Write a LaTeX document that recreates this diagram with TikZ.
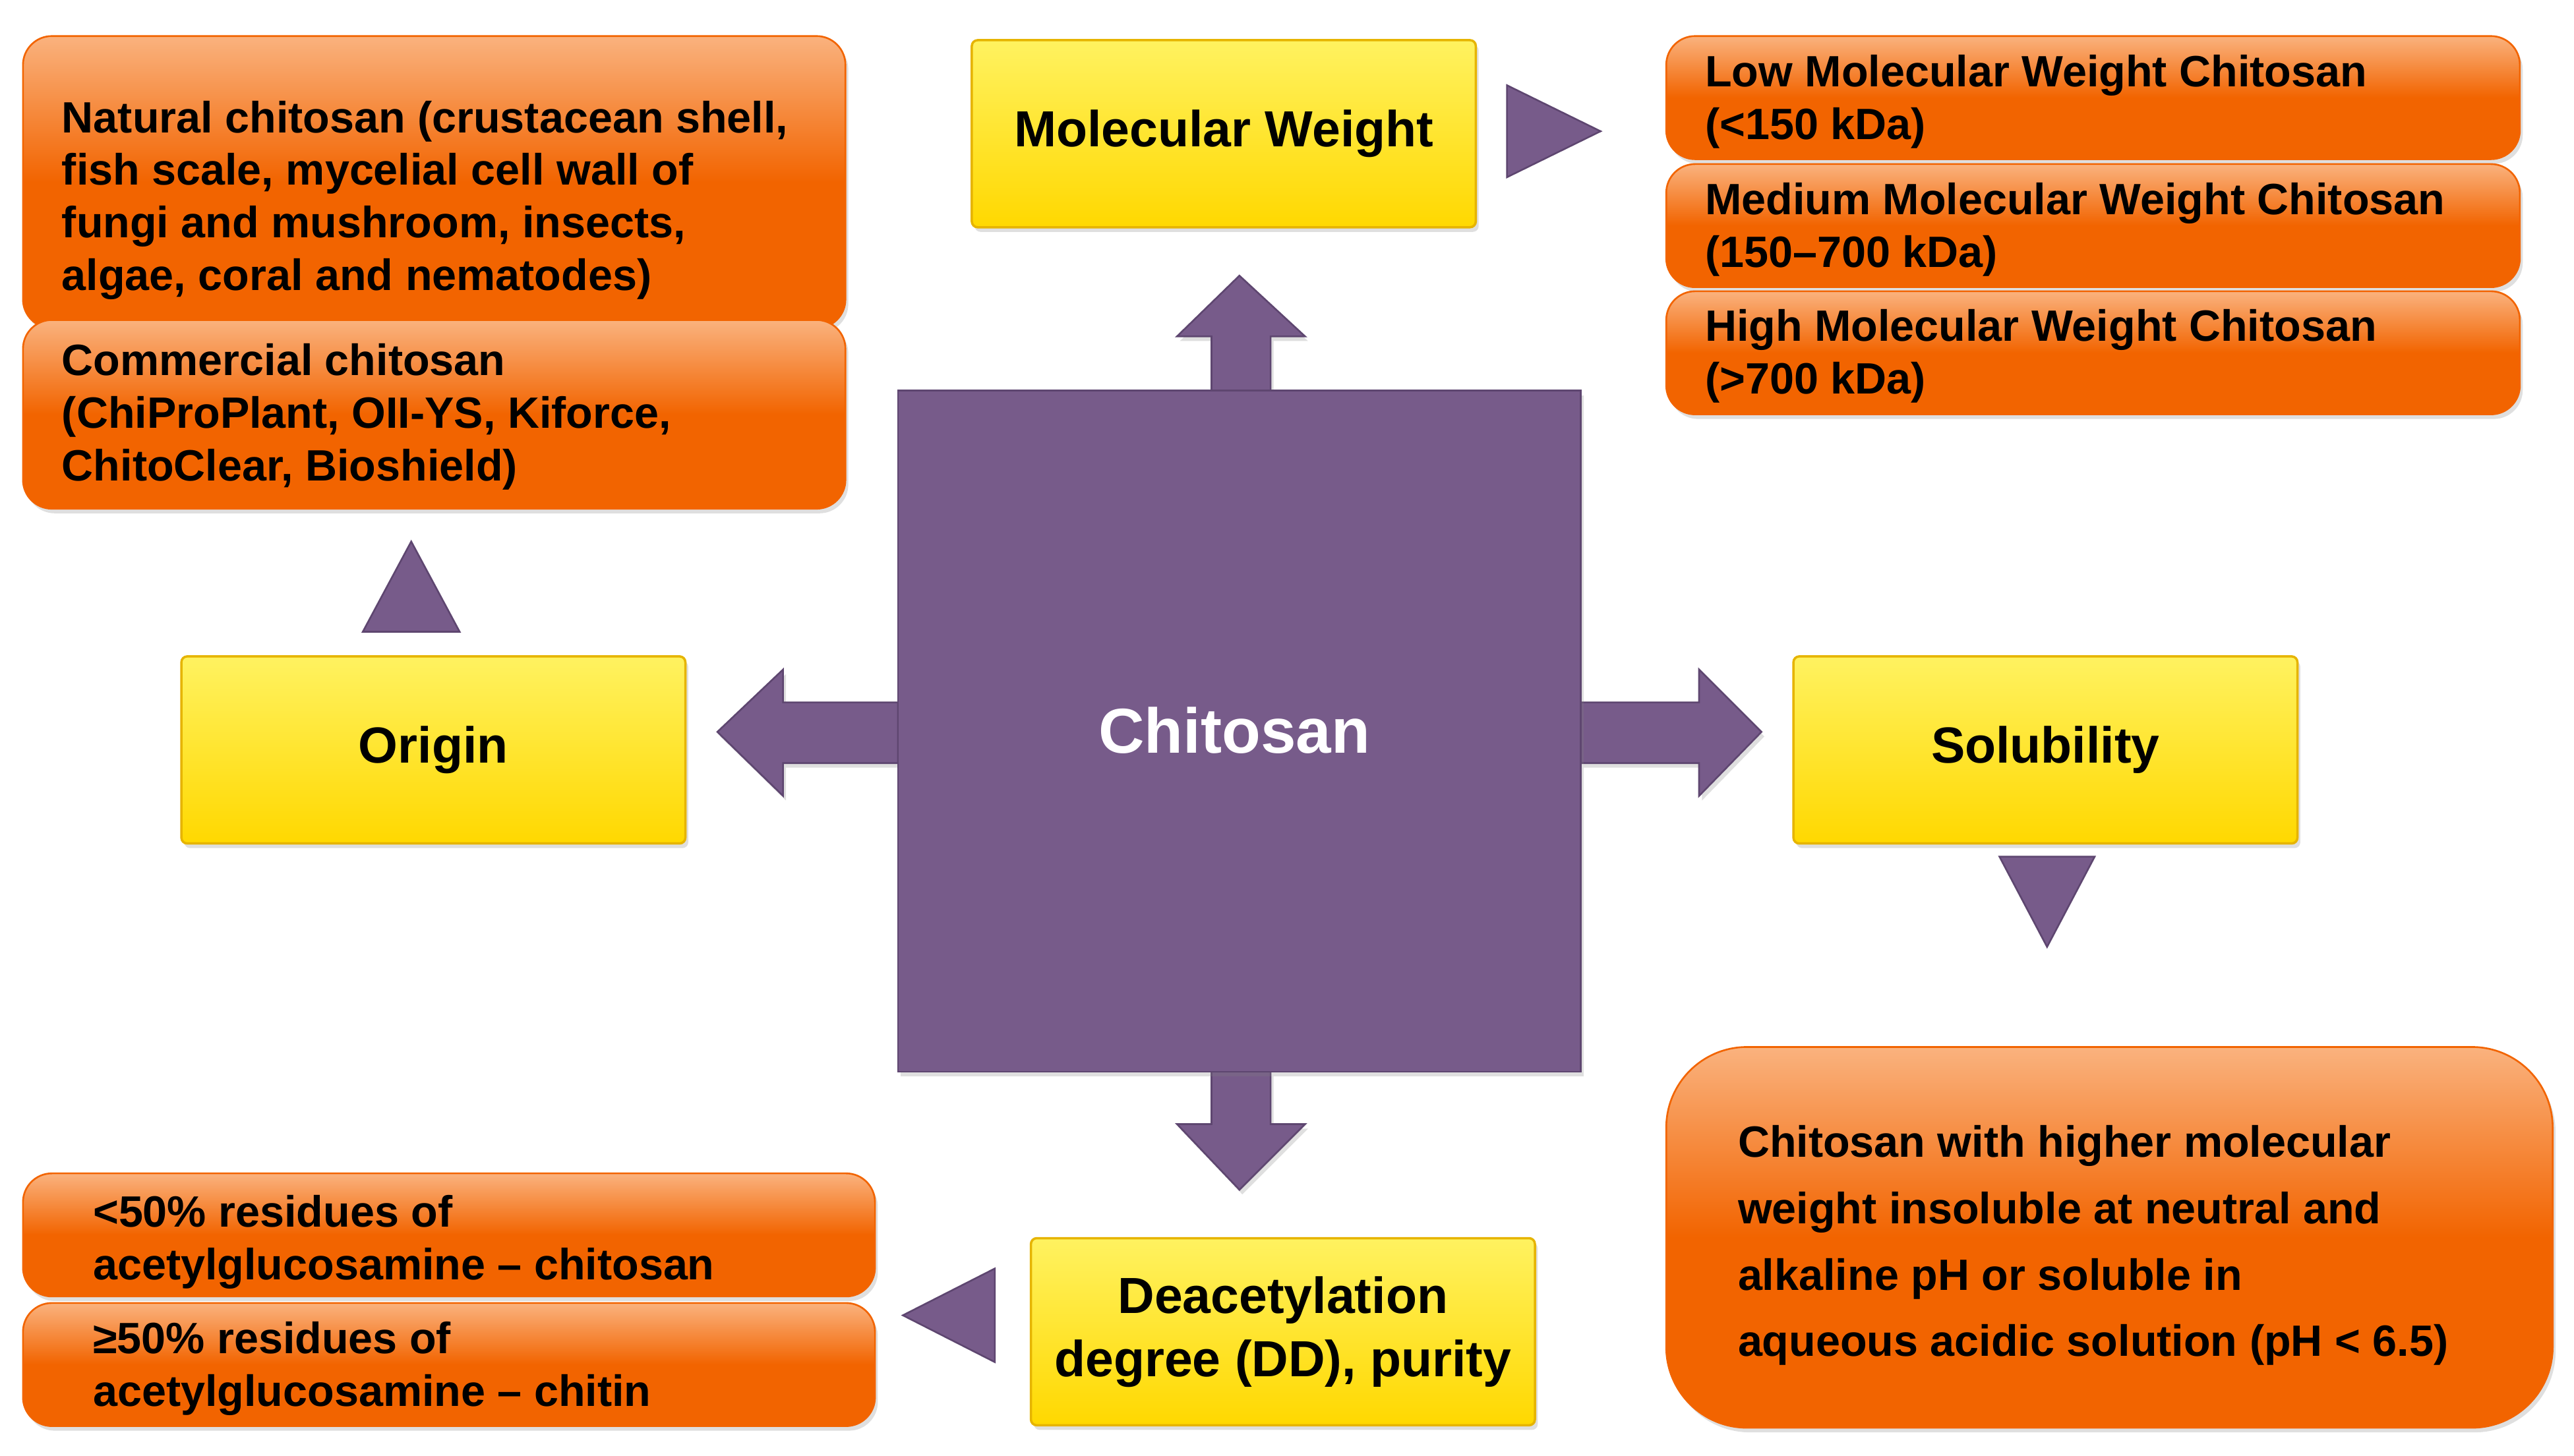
\documentclass[tikz,border=0pt]{standalone}
\usepackage{fontspec}
\setmainfont{Liberation Sans}
\usetikzlibrary{shadows}
\definecolor{purp}{HTML}{775B8A}
\definecolor{purpd}{HTML}{5E4670}
\definecolor{otop}{HTML}{FAB27E}
\definecolor{obot}{HTML}{F26400}
\definecolor{ytop}{HTML}{FFF260}
\definecolor{ybot}{HTML}{FFD800}
\definecolor{ydraw}{HTML}{E6B400}
\begin{document}
\begin{tikzpicture}[x=1cm,y=1cm,
 shd/.style={drop shadow={opacity=0.25, shadow xshift=0.5pt, shadow yshift=-0.8pt}},
 orange/.style={rounded corners=5pt, top color=otop, bottom color=obot, middle color=obot, draw=obot, line width=0.3pt, inner sep=0pt, shd},
 otext/.style={anchor=west, inner sep=0pt, font=\bfseries\fontsize{7.6}{9.1}\selectfont, align=left},
 yellow/.style={draw=ydraw, line width=0.4pt, top color=ytop, bottom color=ybot, font=\bfseries\fontsize{8.8}{11}\selectfont, align=center, minimum width=3.07cm, minimum height=1.14cm, rounded corners=1pt, shd},
 tri/.style={fill=purp, draw=purpd, line width=0.3pt},
 arr/.style={fill=purp, draw=purpd, line width=0.3pt, shd}]
\useasboundingbox (0,0) rectangle (15.68,8.87);
% central square and arrows
\draw[arr] (7.38,6.49) -- (7.38,6.82) -- (7.17,6.82) -- (7.55,7.19) -- (7.95,6.82) -- (7.74,6.82) -- (7.74,6.49) -- cycle;
\draw[arr] (7.38,2.34) -- (7.38,2.02) -- (7.17,2.02) -- (7.55,1.62) -- (7.95,2.02) -- (7.74,2.02) -- (7.74,2.34) -- cycle;
\draw[arr] (5.47,4.59) -- (4.77,4.59) -- (4.77,4.79) -- (4.37,4.41) -- (4.77,4.02) -- (4.77,4.22) -- (5.47,4.22) -- cycle;
\draw[arr] (9.63,4.59) -- (10.35,4.59) -- (10.35,4.79) -- (10.73,4.41) -- (10.35,4.02) -- (10.35,4.22) -- (9.63,4.22) -- cycle;
\node[fill=purp, draw=purpd, line width=0.3pt, minimum width=4.16cm, minimum height=4.15cm, shd] (chit) at (7.55,4.415) {};
\node[text=white, font=\bfseries\fontsize{11}{13}\selectfont] at (7.52,4.42) {Chitosan};
% yellow nodes
\node[yellow] (orig) at (2.64,4.30) {Origin};
\node[yellow] (mw) at (7.455,8.055) {Molecular Weight};
\node[yellow] (sol) at (12.46,4.30) {Solubility};
\node[yellow] (dd) at (7.815,0.755) {Deacetylation\\degree (DD), purity};
% triangles
\draw[tri] (2.21,5.02) -- (2.80,5.02) -- (2.505,5.57) -- cycle;
\draw[tri] (9.18,8.35) -- (9.18,7.79) -- (9.75,8.07) -- cycle;
\draw[tri] (12.18,3.65) -- (12.76,3.65) -- (12.47,3.10) -- cycle;
\draw[tri] (6.06,1.14) -- (6.06,0.57) -- (5.50,0.855) -- cycle;
% orange boxes
\node[orange, minimum width=5.01cm, minimum height=1.78cm] (nat) at (2.645,7.76) {};
\node[otext] at (0.37,7.65) {Natural chitosan (crustacean shell,\\fish scale, mycelial cell wall of\\fungi and mushroom, insects,\\algae, coral and nematodes)};
\node[orange, minimum width=5.01cm, minimum height=1.15cm] (com) at (2.645,6.345) {};
\node[otext] at (0.37,6.33) {Commercial chitosan\\(ChiProPlant, OII-YS, Kiforce,\\ChitoClear, Bioshield)};
\node[orange, minimum width=5.2cm, minimum height=0.75cm] (low) at (12.75,8.275) {};
\node[otext] at (10.38,8.25) {Low Molecular Weight Chitosan\\(<150 kDa)};
\node[orange, minimum width=5.2cm, minimum height=0.75cm] (med) at (12.75,7.495) {};
\node[otext] at (10.38,7.47) {Medium Molecular Weight Chitosan\\(150–700 kDa)};
\node[orange, minimum width=5.2cm, minimum height=0.75cm] (high) at (12.75,6.72) {};
\node[otext] at (10.38,6.70) {High Molecular Weight Chitosan\\(>700 kDa)};
\node[orange, rounded corners=14pt, minimum width=5.4cm, minimum height=2.32cm] (big) at (12.85,1.33) {};
\node[otext, font=\bfseries\fontsize{7.6}{11.5}\selectfont] at (10.58,1.28) {Chitosan with higher molecular\\weight insoluble at neutral and\\alkaline pH or soluble in\\aqueous acidic solution (pH < 6.5)};
\node[orange, minimum width=5.19cm, minimum height=0.75cm] (lt) at (2.735,1.345) {};
\node[otext] at (0.56,1.30) {<50\% residues of\\acetylglucosamine – chitosan};
\node[orange, minimum width=5.19cm, minimum height=0.75cm] (ge) at (2.735,0.555) {};
\node[otext] at (0.56,0.53) {≥50\% residues of\\acetylglucosamine – chitin};
\end{tikzpicture}
\end{document}
